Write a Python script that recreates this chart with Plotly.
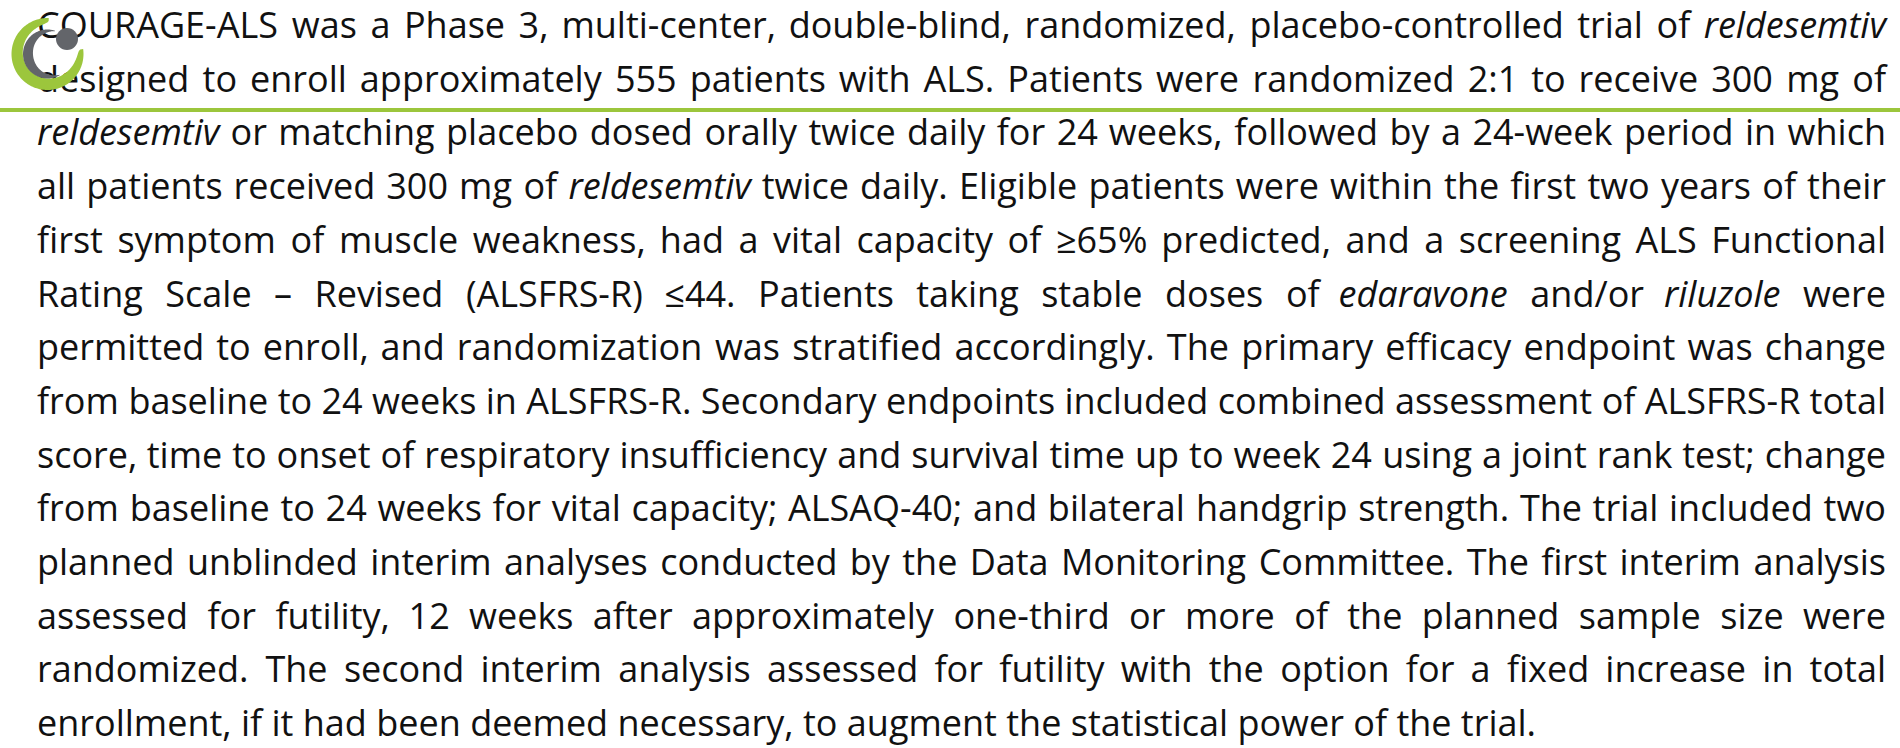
import numpy as np
import plotly.graph_objects as go

# ---------------- content ----------------
LINES = [
    "COURAGE-ALS was a Phase 3, multi-center, double-blind, randomized, placebo-controlled trial of *reldesemtiv*",
    "designed to enroll approximately 555 patients with ALS. Patients were randomized 2:1 to receive 300 mg of",
    "*reldesemtiv* or matching placebo dosed orally twice daily for 24 weeks, followed by a 24-week period in which",
    "all patients received 300 mg of *reldesemtiv* twice daily. Eligible patients were within the first two years of their",
    "first symptom of muscle weakness, had a vital capacity of ≥65% predicted, and a screening ALS Functional",
    "Rating Scale – Revised (ALSFRS-R) ≤44. Patients taking stable doses of *edaravone* and/or *riluzole* were",
    "permitted to enroll, and randomization was stratified accordingly. The primary efficacy endpoint was change",
    "from baseline to 24 weeks in ALSFRS-R. Secondary endpoints included combined assessment of ALSFRS-R total",
    "score, time to onset of respiratory insufficiency and survival time up to week 24 using a joint rank test; change",
    "from baseline to 24 weeks for vital capacity; ALSAQ-40; and bilateral handgrip strength. The trial included two",
    "planned unblinded interim analyses conducted by the Data Monitoring Committee. The first interim analysis",
    "assessed for futility, 12 weeks after approximately one-third or more of the planned sample size were",
    "randomized. The second interim analysis assessed for futility with the option for a fixed increase in total",
    "enrollment, if it had been deemed necessary, to augment the statistical power of the trial.",
]

# ---------------- layout constants ----------------
W_PX, H_PX = 1900, 748
FS = 36
FONT = "Open Sans"
LEFT, RIGHT = 37, 1886
BASE0, STEP = 38, 53.7
TEXT_COLOR = "#111111"
GREEN = "#9CC63C"
GRAY = "#63656A"
ITALIC_FACTOR = 0.925

# approximate Open Sans advance widths (units per em = 2048)
ADV = {
    ' ': 532, 'a': 1139, 'b': 1255, 'c': 975, 'd': 1255, 'e': 1149, 'f': 694, 'g': 1122,
    'h': 1257, 'i': 518, 'j': 518, 'k': 1075, 'l': 518, 'm': 1905, 'n': 1257, 'o': 1237,
    'p': 1255, 'q': 1255, 'r': 836, 's': 977, 't': 723, 'u': 1257, 'v': 1026, 'w': 1593,
    'x': 1073, 'y': 1028, 'z': 977,
    'A': 1296, 'B': 1327, 'C': 1292, 'D': 1493, 'E': 1139, 'F': 1057, 'G': 1491, 'H': 1511,
    'I': 571, 'J': 547, 'K': 1257, 'L': 1061, 'M': 1825, 'N': 1544, 'O': 1595, 'P': 1233,
    'Q': 1595, 'R': 1266, 'S': 1124, 'T': 1134, 'U': 1511, 'V': 1229, 'W': 1890, 'X': 1208,
    'Y': 1155, 'Z': 1143,
    '.': 545, ',': 502, '-': 659, ':': 545, ';': 545, '(': 578, ')': 578, '%': 1702,
    '–': 1024, '/': 752, '≥': 1171, '≤': 1171,
}
for d in "0123456789":
    ADV[d] = 1171


def text_width(s, italic):
    w = sum(ADV.get(c, 1100) for c in s) / 2048.0 * FS
    return w * ITALIC_FACTOR if italic else w


xs, ys, texts, positions = [], [], [], []
for i, line in enumerate(LINES):
    base = BASE0 + i * STEP
    yv = base - 0.25 * FS  # scatter text baseline sits 0.25*fontsize below the point
    items = [(w.strip('*'), w.startswith('*')) for w in line.split(' ')]
    fmt = [f"<i>{t}</i>" if it else t for t, it in items]
    if i == len(LINES) - 1:
        xs.append(LEFT); ys.append(yv); texts.append(' '.join(fmt)); positions.append('middle right')
        continue
    widths = [text_width(t, it) for t, it in items]
    n = len(items)
    gap = (RIGHT - LEFT - sum(widths)) / (n - 1)
    for k in range(n):
        if k < n / 2:
            x = LEFT + sum(widths[:k]) + k * gap
            pos = 'middle right'
        else:
            x = RIGHT - sum(widths[k + 1:]) - (n - 1 - k) * gap
            pos = 'middle left'
        xs.append(x); ys.append(yv); texts.append(fmt[k]); positions.append(pos)

fig = go.Figure()
fig.add_trace(go.Scatter(
    x=xs, y=ys, text=texts, mode='text', textposition=positions,
    textfont=dict(family=FONT, size=FS, color=TEXT_COLOR),
    hoverinfo='skip', cliponaxis=False, showlegend=False,
))

# ---------------- logo + header rule ----------------
LOGO_C = (47.5, 54.0)
LOGO_R = 36.0
DOT = (67.0, 39.0, 11.0)


def ring_path(cx, cy, r_out, th0, th1, thick_fn, n=120):
    th = np.linspace(th0, th1, n)
    t = thick_fn(th)
    rad = np.radians(th)
    outer = [(cx + r_out * np.cos(a), cy - r_out * np.sin(a)) for a in rad]
    inner = [(cx + (r_out - tt) * np.cos(a), cy - (r_out - tt) * np.sin(a)) for a, tt in zip(rad, t)]
    pts = outer + inner[::-1]
    return "M " + " L ".join(f"{x:.2f},{y:.2f}" for x, y in pts) + " Z"


cx, cy = LOGO_C
green_path = ring_path(cx, cy, LOGO_R, 88, 368,
                       lambda th: 3 + 9 * np.sin(np.pi * (th - 88) / 280) ** 0.5)
gray_path = ring_path(cx, cy, 24.5, 72, 300,
                      lambda th: 0.5 + 9.5 * np.sin(np.pi * (th - 72) / 228))

shapes = [
    dict(type='rect', xref='x', yref='y', x0=0, x1=W_PX, y0=108, y1=112,
         fillcolor=GREEN, line=dict(width=0), layer='above'),
    dict(type='path', xref='x', yref='y', path=green_path, fillcolor=GREEN,
         line=dict(width=0), layer='above'),
    dict(type='path', xref='x', yref='y', path=gray_path, fillcolor=GRAY,
         line=dict(width=0), layer='above'),
    dict(type='circle', xref='x', yref='y', x0=DOT[0] - DOT[2], x1=DOT[0] + DOT[2],
         y0=DOT[1] - DOT[2], y1=DOT[1] + DOT[2], fillcolor=GRAY, line=dict(width=0), layer='above'),
]

fig.update_layout(
    width=W_PX, height=H_PX,
    margin=dict(l=0, r=0, t=0, b=0, pad=0),
    paper_bgcolor='white', plot_bgcolor='white',
    xaxis=dict(range=[0, W_PX], visible=False, fixedrange=True),
    yaxis=dict(range=[H_PX, 0], visible=False, fixedrange=True),
    shapes=shapes,
    showlegend=False,
)

fig.write_html(
    "out.html",
    config=dict(displayModeBar=False, staticPlot=True),
    post_script="document.body.style.margin='0';document.body.style.overflow='hidden';",
)
